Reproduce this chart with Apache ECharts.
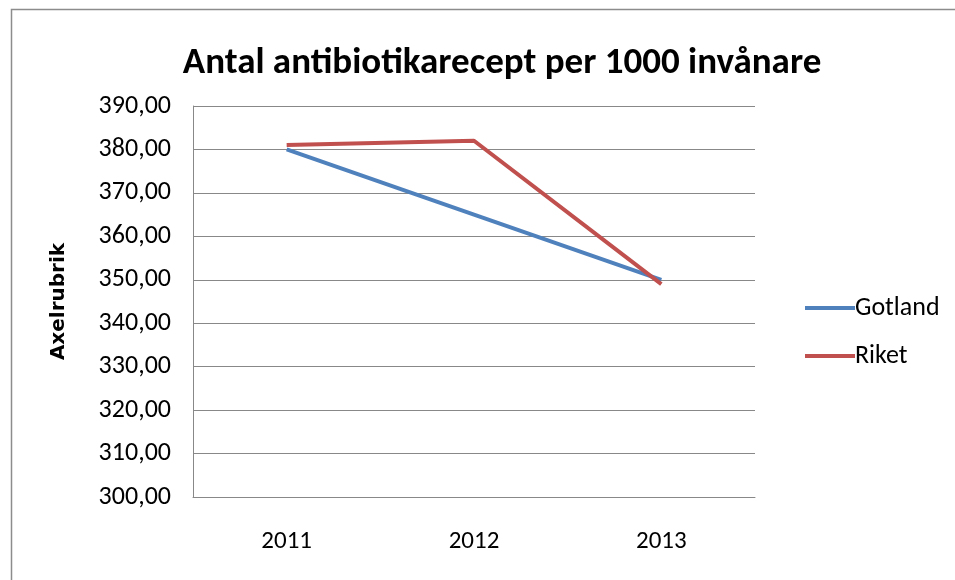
<!DOCTYPE html>
<html>
<head>
<meta charset="utf-8">
<script src="https://cdn.jsdelivr.net/npm/echarts@6/dist/echarts.min.js"></script>
<style>
  html, body { margin: 0; padding: 0; background: #fff; }
  #chart { width: 955px; height: 580px; }
</style>
</head>
<body>
<div id="chart"></div>
<script>
// Prescriptions per 1000 inhabitants, by year
const years = ['2011', '2012', '2013'];
const gotland = [380.0, 365.0, 350.0];
const riket = [381.0, 382.0, 349.0];
const seriesNames = ['Gotland', 'Riket'];

const FONT = "Carlito, 'Liberation Sans Narrow', 'Open Sans', sans-serif";

const chart = echarts.init(document.getElementById('chart'), null, { renderer: 'canvas' });

chart.setOption({
  animation: false,
  backgroundColor: '#fff',
  title: {
    text: 'Antal antibiotikarecept per 1000 invånare',
    left: 497,
    top: 40,
    textAlign: 'center',
    textStyle: { fontFamily: FONT, fontSize: 37, fontWeight: 'bold', color: '#000' }
  },
  legend: {
    orient: 'vertical',
    left: 800,
    top: 290,
    itemGap: 22,
    itemWidth: 50,
    itemHeight: 4,
    icon: 'rect',
    textStyle: { fontFamily: FONT, fontSize: 26, color: '#000', padding: [0, 0, 0, -5] },
    data: seriesNames
  },
  grid: { left: 193, right: 200, top: 106, bottom: 83, containLabel: false },
  xAxis: {
    type: 'category',
    data: years,
    boundaryGap: true,
    axisLine: { lineStyle: { color: '#888', width: 1 } },
    axisTick: { show: false },
    axisLabel: { fontFamily: FONT, fontSize: 25, color: '#000', margin: 32 }
  },
  yAxis: {
    type: 'value',
    min: 300,
    max: 390,
    interval: 10,
    name: 'Axelrubrik',
    nameLocation: 'middle',
    nameGap: 124,
    nameRotate: 90,
    nameTextStyle: { fontFamily: "'DejaVu Sans', sans-serif", fontSize: 20, fontWeight: 'bold', color: '#000' },
    axisLine: { show: true, lineStyle: { color: '#888', width: 1 } },
    axisTick: { show: false },
    splitLine: { lineStyle: { color: '#888', width: 1 } },
    axisLabel: {
      fontFamily: FONT, fontSize: 26, color: '#000', margin: 22,
      formatter: v => v.toFixed(2).replace('.', ',')
    }
  },
  series: [
    {
      name: seriesNames[0], type: 'line', data: gotland,
      symbol: 'none', lineStyle: { width: 4, color: '#4F81BD' }, itemStyle: { color: '#4F81BD' }
    },
    {
      name: seriesNames[1], type: 'line', data: riket,
      symbol: 'none', lineStyle: { width: 4, color: '#C0504D' }, itemStyle: { color: '#C0504D' }
    }
  ],
  graphic: [
    {
      type: 'rect', left: 9, top: 7, silent: true,
      shape: { width: 960, height: 600 },
      style: { fill: 'none', stroke: '#8c8c8c', lineWidth: 1.5 }
    }
  ]
});
</script>
</body>
</html>
